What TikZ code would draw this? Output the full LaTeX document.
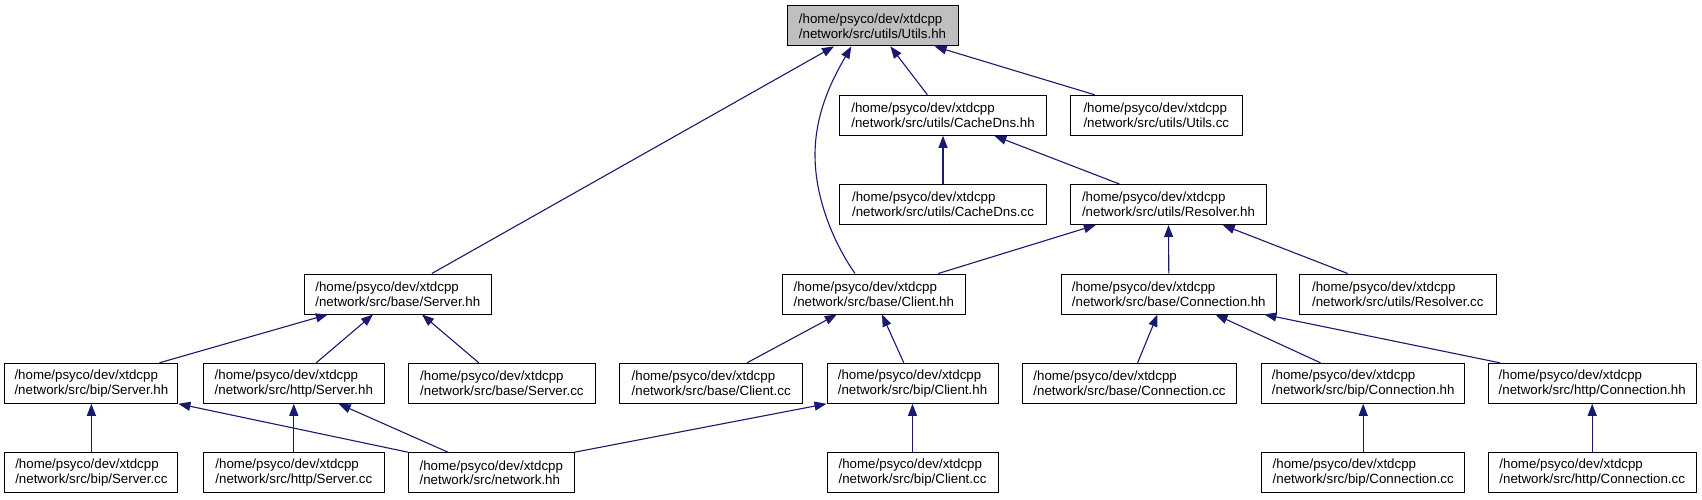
\documentclass[tikz,border=0pt]{standalone}
\usepackage{fontspec}
\setmainfont{Liberation Sans}
\usetikzlibrary{arrows.meta}
\definecolor{navy}{RGB}{25,25,112}
\definecolor{rootgray}{RGB}{191,191,191}
\tikzset{
  box/.style={draw=black, line width=1pt, fill=white, minimum height=40pt,
    inner sep=0pt, align=left, font=\fontsize{13.3}{14.7}\selectfont},
  dep/.style={draw=navy, line width=1.1pt, {Triangle[length=12pt,width=9pt]}-}
}
\begin{document}
\begin{tikzpicture}[x=1pt,y=-1pt]
\path[use as bounding box, fill=white] (0,0) rectangle (1702,499);
% row 1
\node[box, fill=rootgray, minimum width=171pt] (utilshh) at (872.5,25.9) {/home/psyco/dev/xtdcpp\\/network/src/utils/Utils.hh};
% row 2
\node[box, minimum width=207pt] (cachehh) at (943,115.3) {/home/psyco/dev/xtdcpp\\/network/src/utils/CacheDns.hh};
\node[box, minimum width=171.5pt] (utilscc) at (1156.3,115.3) {/home/psyco/dev/xtdcpp\\/network/src/utils/Utils.cc};
% row 3
\node[box, minimum width=207pt] (cachecc) at (943,204.5) {/home/psyco/dev/xtdcpp\\/network/src/utils/CacheDns.cc};
\node[box, minimum width=196pt] (resolvhh) at (1168.5,204.5) {/home/psyco/dev/xtdcpp\\/network/src/utils/Resolver.hh};
% row 4
\node[box, minimum width=187pt] (serverhh) at (397.8,294) {/home/psyco/dev/xtdcpp\\/network/src/base/Server.hh};
\node[box, minimum width=182.5pt] (clienthh) at (873.8,294) {/home/psyco/dev/xtdcpp\\/network/src/base/Client.hh};
\node[box, minimum width=214.5pt] (connhh) at (1168.8,294) {/home/psyco/dev/xtdcpp\\/network/src/base/Connection.hh};
\node[box, minimum width=196.5pt] (resolvcc) at (1397.8,294) {/home/psyco/dev/xtdcpp\\/network/src/utils/Resolver.cc};
% row 5
\node[box, minimum width=173pt] (bipserverhh) at (91.4,383.3) {/home/psyco/dev/xtdcpp\\/network/src/bip/Server.hh};
\node[box, minimum width=180.4pt] (httpserverhh) at (293.8,383.3) {/home/psyco/dev/xtdcpp\\/network/src/http/Server.hh};
\node[box, minimum width=186.8pt] (baseservercc) at (501.9,383.3) {/home/psyco/dev/xtdcpp\\/network/src/base/Server.cc};
\node[box, minimum width=182.5pt] (baseclientcc) at (711.2,383.3) {/home/psyco/dev/xtdcpp\\/network/src/base/Client.cc};
\node[box, minimum width=171pt] (bipclienthh) at (912.5,383.3) {/home/psyco/dev/xtdcpp\\/network/src/bip/Client.hh};
\node[box, minimum width=214.3pt] (baseconncc) at (1129.5,383.3) {/home/psyco/dev/xtdcpp\\/network/src/base/Connection.cc};
\node[box, minimum width=203pt] (bipconnhh) at (1363.2,383.3) {/home/psyco/dev/xtdcpp\\/network/src/bip/Connection.hh};
\node[box, minimum width=207.6pt] (httpconnhh) at (1592.2,383.3) {/home/psyco/dev/xtdcpp\\/network/src/http/Connection.hh};
% row 6
\node[box, minimum width=173pt] (bipservercc) at (91.4,472.7) {/home/psyco/dev/xtdcpp\\/network/src/bip/Server.cc};
\node[box, minimum width=180.4pt] (httpservercc) at (293.8,472.7) {/home/psyco/dev/xtdcpp\\/network/src/http/Server.cc};
\node[box, minimum width=165.5pt] (networkhh) at (491.3,472.7) {/home/psyco/dev/xtdcpp\\/network/src/network.hh};
\node[box, minimum width=171pt] (bipclientcc) at (912.5,472.7) {/home/psyco/dev/xtdcpp\\/network/src/bip/Client.cc};
\node[box, minimum width=203pt] (bipconncc) at (1363.2,472.7) {/home/psyco/dev/xtdcpp\\/network/src/bip/Connection.cc};
\node[box, minimum width=207.6pt] (httpconncc) at (1592.2,472.7) {/home/psyco/dev/xtdcpp\\/network/src/http/Connection.cc};
% edges into Utils.hh
\draw[dep] ([xshift=-38.5pt]utilshh.south) -- ([xshift=34pt]serverhh.north);
\draw[dep] ([xshift=-21.2pt]utilshh.south) .. controls (835,75) and (815,110) .. (815,155)
  .. controls (815,200) and (835,245) .. ([xshift=-18.8pt]clienthh.north);
\draw[dep] ([xshift=17.9pt]utilshh.south) -- ([xshift=-15.6pt]cachehh.north);
\draw[dep] ([xshift=62.1pt]utilshh.south) -- ([xshift=-61.6pt]utilscc.north);
% CacheDns.hh
\draw[dep] (cachehh.south) -- (cachecc.north);
\draw[dep] ([xshift=51.4pt]cachehh.south) -- ([xshift=-49.1pt]resolvhh.north);
% Resolver.hh
\draw[dep] ([xshift=-72.7pt]resolvhh.south) -- ([xshift=64.5pt]clienthh.north);
\draw[dep] (resolvhh.south) -- (connhh.north);
\draw[dep] ([xshift=54.2pt]resolvhh.south) -- ([xshift=-50.1pt]resolvcc.north);
% base/Server.hh
\draw[dep] ([xshift=-70pt]serverhh.south) -- ([xshift=68pt]bipserverhh.north);
\draw[dep] ([xshift=-24.8pt]serverhh.south) -- ([xshift=22.4pt]httpserverhh.north);
\draw[dep] ([xshift=24.2pt]serverhh.south) -- ([xshift=-23.1pt]baseservercc.north);
% bip/Server.hh, http/Server.hh
\draw[dep] (bipserverhh.south) -- (bipservercc.north);
\draw[dep] (bipserverhh.south east) -- (networkhh.north west);
\draw[dep] (httpserverhh.south) -- (httpservercc.north);
\draw[dep] ([xshift=44.9pt]httpserverhh.south) -- ([xshift=-43.3pt]networkhh.north);
% base/Client.hh
\draw[dep] ([xshift=-37pt]clienthh.south) -- ([xshift=35.8pt]baseclientcc.north);
\draw[dep] ([xshift=8.2pt]clienthh.south) -- ([xshift=-8.7pt]bipclienthh.north);
% bip/Client.hh
\draw[dep] (bipclienthh.south west) -- (networkhh.north east);
\draw[dep] (bipclienthh.south) -- (bipclientcc.north);
% base/Connection.hh
\draw[dep] ([xshift=-11.3pt]connhh.south) -- ([xshift=8.1pt]baseconncc.north);
\draw[dep] ([xshift=46.7pt]connhh.south) -- ([xshift=-42.7pt]bipconnhh.north);
\draw[dep] ([xshift=95.6pt]connhh.south) -- ([xshift=-92.4pt]httpconnhh.north);
\draw[dep] (bipconnhh.south) -- (bipconncc.north);
\draw[dep] (httpconnhh.south) -- (httpconncc.north);
\end{tikzpicture}
\end{document}
